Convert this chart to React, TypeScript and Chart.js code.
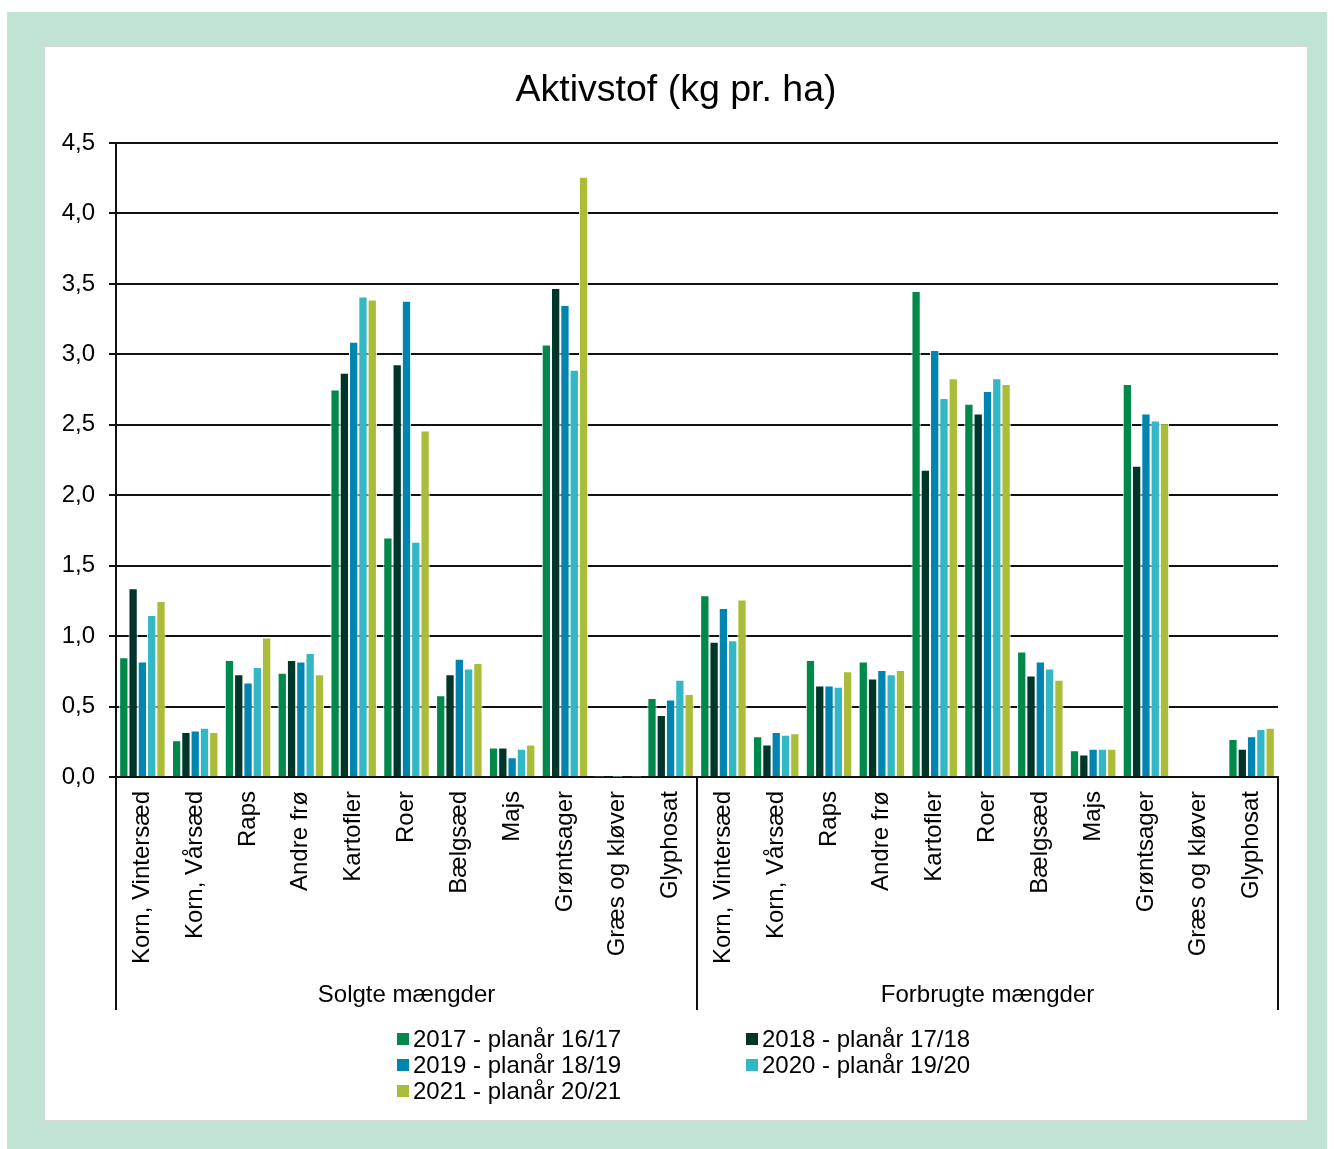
import React, { useEffect, useRef } from "react";
import { Chart, registerables } from "chart.js";

Chart.register(...registerables);

const titleText = "Aktivstof (kg pr. ha)";
const groupNames = ["Solgte mængder", "Forbrugte mængder"];
const crops = [
  "Korn, Vintersæd",
  "Korn, Vårsæd",
  "Raps",
  "Andre frø",
  "Kartofler",
  "Roer",
  "Bælgsæd",
  "Majs",
  "Grøntsager",
  "Græs og kløver",
  "Glyphosat",
];
const categories = [...crops, ...crops];

const seriesNames = [
  "2017 - planår 16/17",
  "2018 - planår 17/18",
  "2019 - planår 18/19",
  "2020 - planår 19/20",
  "2021 - planår 20/21",
];
const seriesColors = ["#00894a", "#00352a", "#0085b0", "#33b7c4", "#abbd38"];

const s2017 = [0.85, 0.26, 0.83, 0.74, 2.75, 1.7, 0.58, 0.21, 3.07, 0.004, 0.56, 1.29, 0.29, 0.83, 0.82, 3.45, 2.65, 0.89, 0.19, 2.79, 0, 0.27];
const s2018 = [1.34, 0.32, 0.73, 0.83, 2.87, 2.93, 0.73, 0.21, 3.47, 0, 0.44, 0.96, 0.23, 0.65, 0.7, 2.18, 2.58, 0.72, 0.16, 2.21, 0, 0.2];
const s2019 = [0.82, 0.33, 0.67, 0.82, 3.09, 3.38, 0.84, 0.14, 3.35, 0.002, 0.55, 1.2, 0.32, 0.65, 0.76, 3.03, 2.74, 0.82, 0.2, 2.58, 0, 0.29];
const s2020 = [1.15, 0.35, 0.78, 0.88, 3.41, 1.67, 0.77, 0.2, 2.89, 0, 0.69, 0.97, 0.3, 0.64, 0.73, 2.69, 2.83, 0.77, 0.2, 2.53, 0, 0.34];
const s2021 = [1.25, 0.32, 0.99, 0.73, 3.39, 2.46, 0.81, 0.23, 4.26, 0.004, 0.59, 1.26, 0.31, 0.75, 0.76, 2.83, 2.79, 0.69, 0.2, 2.51, 0, 0.35];
const seriesValues = [s2017, s2018, s2019, s2020, s2021];

const FONT = '"Liberation Sans", Arial, sans-serif';
const X_AXIS_HEIGHT = 233;

const decorPlugin = {
  id: "decorPlugin",
  afterDraw(chart: any) {
    const { ctx, chartArea } = chart;
    const xs = chart.scales.x;
    const n = crops.length;
    const mid = (xs.getPixelForValue(n - 1) + xs.getPixelForValue(n)) / 2;
    const bounds = [chartArea.left, mid, chartArea.right];
    const top = chartArea.bottom;
    const bottom = chartArea.bottom + X_AXIS_HEIGHT;
    ctx.save();
    ctx.strokeStyle = "#111";
    ctx.lineWidth = 2;
    bounds.forEach((bx) => {
      ctx.beginPath();
      ctx.moveTo(bx, top);
      ctx.lineTo(bx, bottom);
      ctx.stroke();
    });
    ctx.fillStyle = "#000";
    ctx.font = `24px ${FONT}`;
    ctx.textAlign = "center";
    ctx.textBaseline = "middle";
    groupNames.forEach((g, i) => {
      const cx = (bounds[i] + bounds[i + 1]) / 2;
      ctx.fillText(g, cx, chartArea.bottom + 218);
    });
    ctx.font = `37.5px ${FONT}`;
    ctx.fillText(titleText, chart.width / 2, 44);
    ctx.restore();
  },
};

export default function App() {
  const ref = useRef<HTMLCanvasElement>(null);

  useEffect(() => {
    if (!ref.current) return;
    const chart = new Chart(ref.current, {
      type: "bar",
      data: {
        labels: categories,
        datasets: seriesNames.map((name, i) => ({
          label: name,
          data: seriesValues[i],
          backgroundColor: seriesColors[i],
          borderColor: "#ffffff",
          borderWidth: 1,
          borderSkipped: "bottom",
          categoryPercentage: 0.88,
          barPercentage: 1.0,
        })),
      },
      options: {
        animation: false,
        responsive: false,
        maintainAspectRatio: false,
        layout: { padding: { left: 0, right: 29, top: 96, bottom: 110 } },
        plugins: {
          legend: { display: false },
          tooltip: { enabled: false },
          title: { display: false },
        },
        scales: {
          x: {
            grid: { display: false, drawTicks: false },
            border: { display: true, color: "#111", width: 2 },
            ticks: {
              autoSkip: false,
              minRotation: 90,
              maxRotation: 90,
              padding: 14,
              color: "#000",
              font: { family: FONT, size: 24 },
            },
            afterFit(scale: any) {
              scale.height = X_AXIS_HEIGHT;
            },
          },
          y: {
            min: 0,
            max: 4.5,
            grid: { color: "#111", lineWidth: 2, drawTicks: true, tickLength: 7 },
            border: { display: true, color: "#111", width: 2 },
            ticks: {
              stepSize: 0.5,
              padding: 14,
              color: "#000",
              font: { family: FONT, size: 24 },
              callback: (v: any) => Number(v).toFixed(1).replace(".", ","),
            },
            afterFit(scale: any) {
              scale.width = 71;
            },
          },
        },
      },
      plugins: [decorPlugin],
    });
    return () => chart.destroy();
  }, []);

  const legendPos = [
    { left: 397, top: 1026 },
    { left: 746, top: 1026 },
    { left: 397, top: 1052 },
    { left: 746, top: 1052 },
    { left: 397, top: 1078 },
  ];

  return (
    <div>
      <div
        style={{
          position: "absolute",
          left: 7,
          top: 12,
          width: 1320,
          height: 1140,
          background: "#c0e3d3",
        }}
      />
      <div
        style={{
          position: "absolute",
          left: 44,
          top: 46,
          width: 1262,
          height: 1073,
          background: "#fff",
          border: "1px solid #d9d9d9",
        }}
      />
      <canvas
        ref={ref}
        width={1262}
        height={1073}
        style={{ position: "absolute", left: 45, top: 47, width: 1262, height: 1073 }}
      />
      {seriesNames.map((name, i) => (
        <div
          key={name}
          style={{
            position: "absolute",
            left: legendPos[i].left,
            top: legendPos[i].top,
            height: 26,
            display: "flex",
            alignItems: "center",
            fontFamily: FONT,
            fontSize: 24,
            color: "#000",
            whiteSpace: "nowrap",
            lineHeight: "26px",
          }}
        >
          <span
            style={{
              display: "inline-block",
              width: 12,
              height: 12,
              background: seriesColors[i],
              marginRight: 4,
            }}
          />
          <span>{name}</span>
        </div>
      ))}
    </div>
  );
}
